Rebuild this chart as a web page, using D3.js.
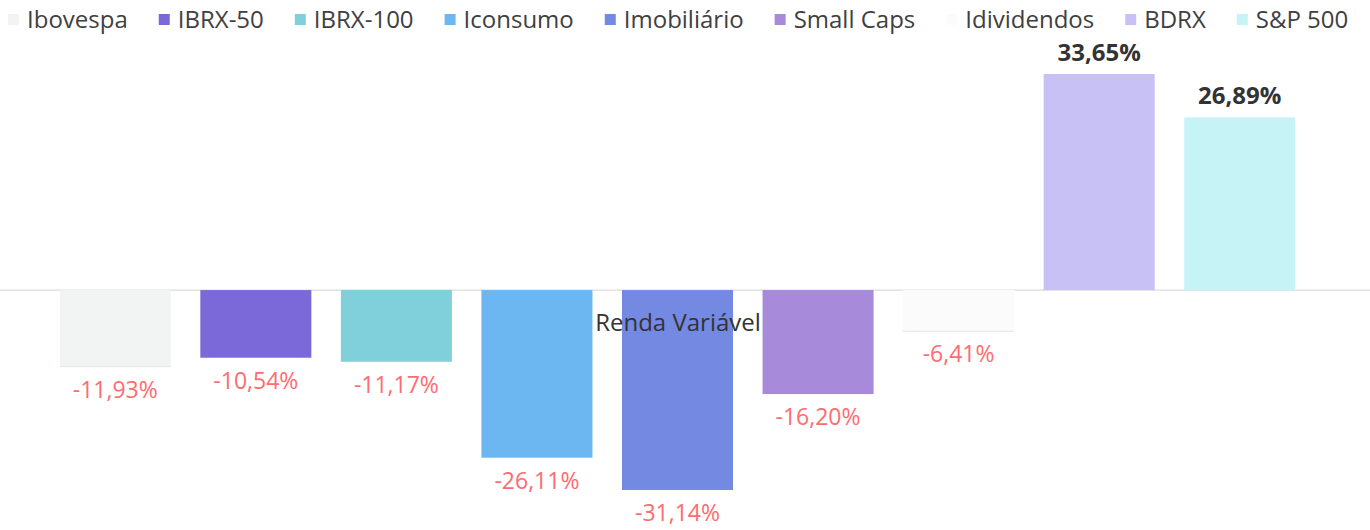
<!DOCTYPE html>
<html>
<head>
<meta charset="utf-8">
<script src="https://cdn.jsdelivr.net/npm/d3@7"></script>
<style>
  body { margin: 0; background: #fff; }
  svg { display: block; font-family: 'Open Sans', 'Noto Sans', sans-serif; }
</style>
</head>
<body>
<div id="chart"></div>
<script>
const categories = ['Ibovespa', 'IBRX-50', 'IBRX-100', 'Iconsumo', 'Imobiliário', 'Small Caps', 'Idividendos', 'BDRX', 'S&P 500'];
const values = [-11.93, -10.54, -11.17, -26.11, -31.14, -16.20, -6.41, 33.65, 26.89];
const colors = ['#f2f4f4', '#7b69d9', '#7fd0da', '#6cb7f1', '#7489e1', '#a78bda', '#fbfbfb', '#c8c1f6', '#c6f4f6'];
const groupLabel = 'Renda Variável';

const W = 1370, H = 530;
// hyphen, not the unicode minus d3 puts in
const fmt = v => d3.format('.2f')(v).replace('.', ',').replace('\u2212', '-') + '%';

const svg = d3.select('#chart').append('svg')
  .attr('width', W)
  .attr('height', H);

const x = d3.scaleBand()
  .domain(categories)
  .range([45, 1310])
  .paddingInner(0.21)
  .paddingOuter(0.105);

const y = d3.scaleLinear()
  .domain([-31.14, 33.65])
  .range([490, 74]);

// zero line
svg.append('line')
  .attr('x1', 0).attr('x2', W)
  .attr('y1', y(0)).attr('y2', y(0))
  .attr('stroke', '#dcdcdc')
  .attr('stroke-width', 1.2);

const data = categories.map((c, i) => ({ cat: c, v: values[i], color: colors[i] }));

svg.selectAll('.bar')
  .data(data)
  .enter()
  .append('rect')
  .attr('class', 'bar')
  .attr('x', d => x(d.cat))
  .attr('width', x.bandwidth())
  .attr('y', d => y(Math.max(0, d.v)))
  .attr('height', d => Math.abs(y(d.v) - y(0)))
  .attr('fill', d => d.color);

// faint bottom edge on the near-white bars
svg.selectAll('.edge')
  .data(data.filter(d => d.cat === 'Ibovespa' || d.cat === 'Idividendos'))
  .enter()
  .append('line')
  .attr('x1', d => x(d.cat)).attr('x2', d => x(d.cat) + x.bandwidth())
  .attr('y1', d => y(d.v)).attr('y2', d => y(d.v))
  .attr('stroke', '#dfe6ea')
  .attr('stroke-width', 1);

svg.selectAll('.val')
  .data(data)
  .enter()
  .append('text')
  .attr('class', 'val')
  .attr('x', d => x(d.cat) + x.bandwidth() / 2)
  .attr('y', d => d.v < 0 ? y(d.v) + 31 : y(d.v) - 13)
  .attr('text-anchor', 'middle')
  .style('font-size', d => d.v < 0 ? '23px' : '24px')
  .style('font-weight', d => d.v < 0 ? 400 : 700)
  .attr('fill', d => d.v < 0 ? '#ff6b6f' : '#333')
  .text(d => fmt(d.v));

svg.append('text')
  .attr('x', 678)
  .attr('y', y(0) + 41)
  .attr('text-anchor', 'middle')
  .style('font-size', '24px')
  .attr('fill', '#333')
  .text(groupLabel);

// legend
const legend = svg.append('g').attr('class', 'legend');
let lx = 8;
data.forEach(d => {
  const g = legend.append('g').attr('transform', `translate(${lx},0)`);
  g.append('rect')
    .attr('x', 0).attr('y', 14)
    .attr('width', 11).attr('height', 11)
    .attr('fill', d.color);
  const t = g.append('text')
    .attr('x', 19).attr('y', 28)
    .style('font-size', '24px')
    .attr('fill', '#404040')
    .text(d.cat);
  lx += 19 + t.node().getComputedTextLength() + 31;
});
</script>
</body>
</html>
